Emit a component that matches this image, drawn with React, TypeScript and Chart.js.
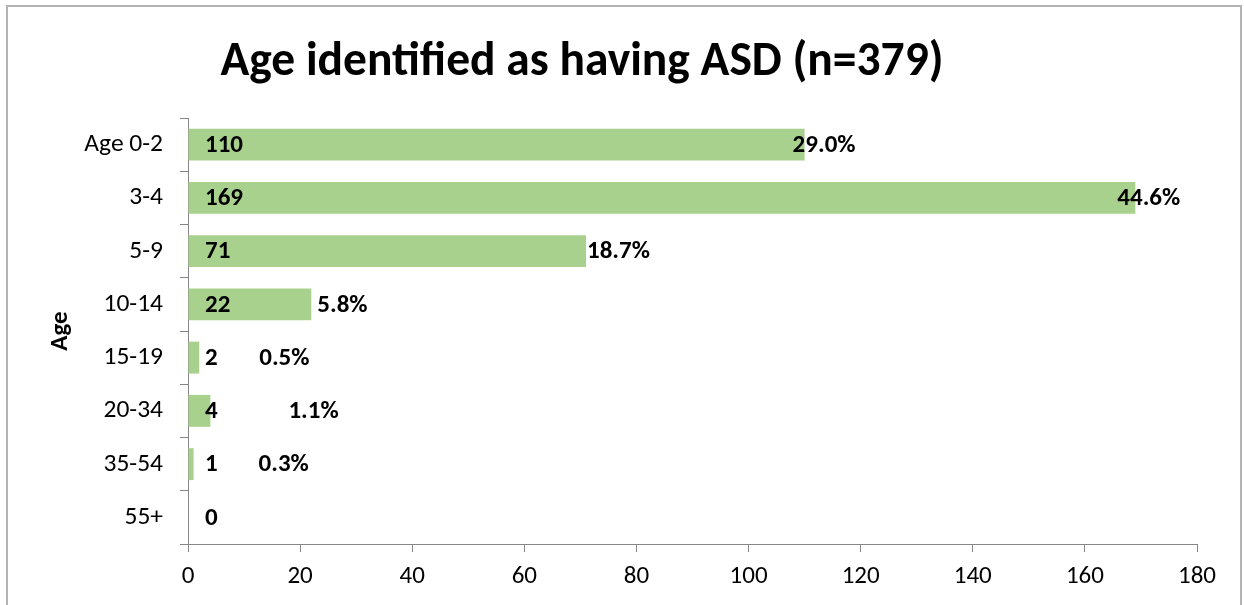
import React, { useEffect, useRef } from "react";
import { Chart, registerables } from "chart.js";

Chart.register(...registerables);

const categories = ["Age 0-2", "3-4", "5-9", "10-14", "15-19", "20-34", "35-54", "55+"];
const counts = [110, 169, 71, 22, 2, 4, 1, 0];
const percentLabels = ["29.0%", "44.6%", "18.7%", "5.8%", "0.5%", "1.1%", "0.3%", ""];
const xMin = 0;
const xMax = 180;
const xStep = 20;
const titleText = "Age identified as having ASD (n=379)";
const yAxisTitle = "Age";

const FONT = "Carlito, Lato, 'Open Sans', sans-serif";
const AXIS = "#878787";
const BAR = "#a9d18e";

const decorPlugin = {
  id: "decor",
  beforeDraw(chart: any) {
    const ctx = chart.ctx;
    ctx.save();
    ctx.fillStyle = "#ffffff";
    ctx.fillRect(0, 0, chart.width, chart.height);
    ctx.strokeStyle = "#b3b3b3";
    ctx.lineWidth = 2;
    ctx.strokeRect(7, 6, 1234, 700);
    ctx.restore();
  },
  afterDraw(chart: any) {
    const ctx = chart.ctx;
    const area = chart.chartArea;
    ctx.save();
    ctx.fillStyle = "#000";
    ctx.textAlign = "center";
    ctx.textBaseline = "alphabetic";
    ctx.font = `bold 47.5px ${FONT}`;
    ctx.fillText(titleText, 582, 75);
    ctx.translate(61, (area.top + area.bottom) / 2);
    ctx.rotate(-Math.PI / 2);
    ctx.textBaseline = "middle";
    ctx.font = `bold 25px ${FONT}`;
    ctx.fillText(yAxisTitle, 0, 0);
    ctx.restore();
  },
};

const pctOffsetPx = [-12, -18, 1, 6, 60, 78, 65, 0];

const labelPlugin = {
  id: "barLabels",
  afterDatasetsDraw(chart: any) {
    const ctx = chart.ctx;
    const meta = chart.getDatasetMeta(0);
    const left = chart.chartArea.left;
    ctx.save();
    ctx.fillStyle = "#000";
    ctx.textBaseline = "middle";
    ctx.textAlign = "left";
    ctx.font = `bold 25px ${FONT}`;
    meta.data.forEach((el: any, i: number) => {
      ctx.fillText(String(counts[i]), left + 17, el.y + 1);
      if (percentLabels[i]) {
        ctx.fillText(percentLabels[i], el.x + pctOffsetPx[i], el.y + 1);
      }
    });
    ctx.restore();
  },
};

export default function App() {
  const ref = useRef<HTMLCanvasElement>(null);
  useEffect(() => {
    if (!ref.current) return;
    const chart = new Chart(ref.current, {
      type: "bar",
      data: {
        labels: categories,
        datasets: [
          {
            data: counts,
            backgroundColor: BAR,
            borderWidth: 0,
            categoryPercentage: 1,
            barPercentage: 0.6,
          },
        ],
      },
      options: {
        indexAxis: "y",
        animation: false,
        responsive: false,
        devicePixelRatio: 1,
        layout: { padding: { top: 118, right: 47, left: 0, bottom: 0 } },
        plugins: { legend: { display: false }, title: { display: false }, tooltip: { enabled: false } },
        scales: {
          y: {
            type: "category",
            grid: { drawOnChartArea: false, drawTicks: true, tickLength: 8, color: AXIS, offset: true },
            border: { display: true, color: AXIS, width: 1 },
            ticks: { color: "#000", font: { family: FONT, size: 25.5 }, padding: 17 },
            afterFit: (s: any) => {
              s.width = 188;
            },
          },
          x: {
            type: "linear",
            min: xMin,
            max: xMax,
            grid: { drawOnChartArea: false, drawTicks: true, tickLength: 8, color: AXIS },
            border: { display: true, color: AXIS, width: 1 },
            ticks: { stepSize: xStep, color: "#000", font: { family: FONT, size: 25 }, padding: 10, maxRotation: 0 },
            afterFit: (s: any) => {
              s.height = 61;
            },
          },
        },
      } as any,
      plugins: [decorPlugin, labelPlugin],
    });
    return () => chart.destroy();
  }, []);
  return (
    <div style={{ position: "fixed", left: 0, top: 0, width: 1244, height: 605, background: "#fff" }}>
      <canvas ref={ref} width={1244} height={605} style={{ width: 1244, height: 605, display: "block" }} />
    </div>
  );
}
